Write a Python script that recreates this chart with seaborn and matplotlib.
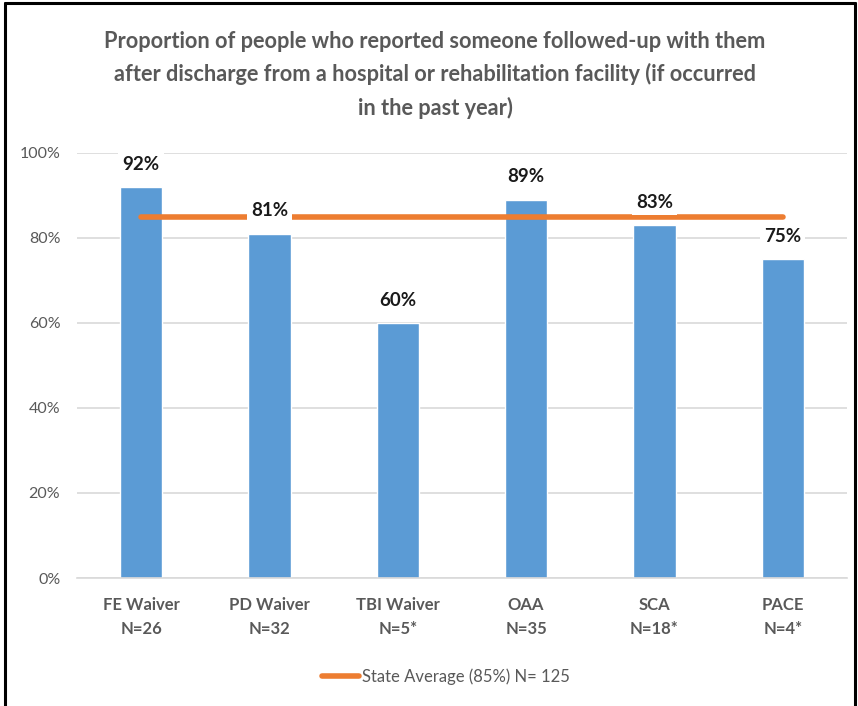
import matplotlib
matplotlib.use("Agg")
import matplotlib.pyplot as plt
from matplotlib.lines import Line2D
import seaborn as sns
import pandas as pd

programs = ["FE Waiver", "PD Waiver", "TBI Waiver", "OAA", "SCA", "PACE"]
sample_sizes = ["N=26", "N=32", "N=5*", "N=35", "N=18*", "N=4*"]
percent_followed_up = [92, 81, 60, 89, 83, 75]
state_average = 85
state_n = 125
y_ticks = [0, 20, 40, 60, 80, 100]

sns.set_theme(style="white")
plt.rcParams["font.family"] = ["Lato", "DejaVu Sans"]

df = pd.DataFrame({"program": programs, "pct": percent_followed_up})

fig = plt.figure(figsize=(8.58, 7.06), dpi=100)
ax = fig.add_axes([0.0897, 0.1813, 0.8973, 0.602])

bar_color = "#5B9BD5"
line_color = "#ED7D31"
text_gray = "#595959"

sns.barplot(data=df, x="program", y="pct", color=bar_color, width=0.33,
            saturation=1, ax=ax, zorder=2)

ax.set_ylim(0, 100)
ax.set_xlim(-0.5, len(programs) - 0.5)
ax.set_yticks(y_ticks)
ax.set_yticklabels([f"{t}%" for t in y_ticks], color=text_gray, fontsize=11.5)
ax.set_xticks(range(len(programs)))
ax.set_xticklabels([f"{p}\n{n}" for p, n in zip(programs, sample_sizes)],
                   color=text_gray, fontsize=12, fontweight="bold", linespacing=1.6)
ax.tick_params(axis="x", length=0, pad=14)
ax.tick_params(axis="y", length=0, pad=12)
ax.set_xlabel("")
ax.set_ylabel("")
ax.grid(axis="y", color="#D9D9D9", linewidth=1.2, zorder=0)
ax.set_axisbelow(True)
for side in ["top", "right", "left"]:
    ax.spines[side].set_visible(False)
ax.spines["bottom"].set_color("#D9D9D9")
ax.spines["bottom"].set_linewidth(1.2)

# state average reference line across the bar centres
ax.plot([0, len(programs) - 1], [state_average, state_average],
        color=line_color, linewidth=4, solid_capstyle="round", zorder=3)

for i, v in enumerate(percent_followed_up):
    ax.annotate(f"{v}%", xy=(i, v), xytext=(0, 16.5), textcoords="offset points",
                ha="center", va="center", fontsize=13.5, fontweight="bold",
                color="#1a1a1a", zorder=5,
                bbox=dict(boxstyle="square,pad=0.22", fc="white", ec="none"))

fig.text(0.507, 0.894,
         "Proportion of people who reported someone followed-up with them\n"
         "after discharge from a hospital or rehabilitation facility (if occurred\n"
         "in the past year)",
         ha="center", va="center", fontsize=15.7, fontweight="bold",
         color=text_gray, linespacing=1.65)

handle = Line2D([0], [0], color=line_color, linewidth=4)
fig.legend([handle], [f"State Average ({state_average}%) N= {state_n}"],
           loc="center", bbox_to_anchor=(0.52, 0.042), frameon=False,
           fontsize=12, labelcolor=text_gray, handlelength=2.2,
           handletextpad=0.2)

# figure border
for xs, ys in [([0.006, 0.006], [0, 0.996]), ([0.006, 0.997], [0.996, 0.996]),
               ([0.997, 0.997], [0, 0.996])]:
    fig.add_artist(Line2D(xs, ys, color="black", linewidth=2.2,
                          transform=fig.transFigure))

fig.savefig("out.png", dpi=100)
